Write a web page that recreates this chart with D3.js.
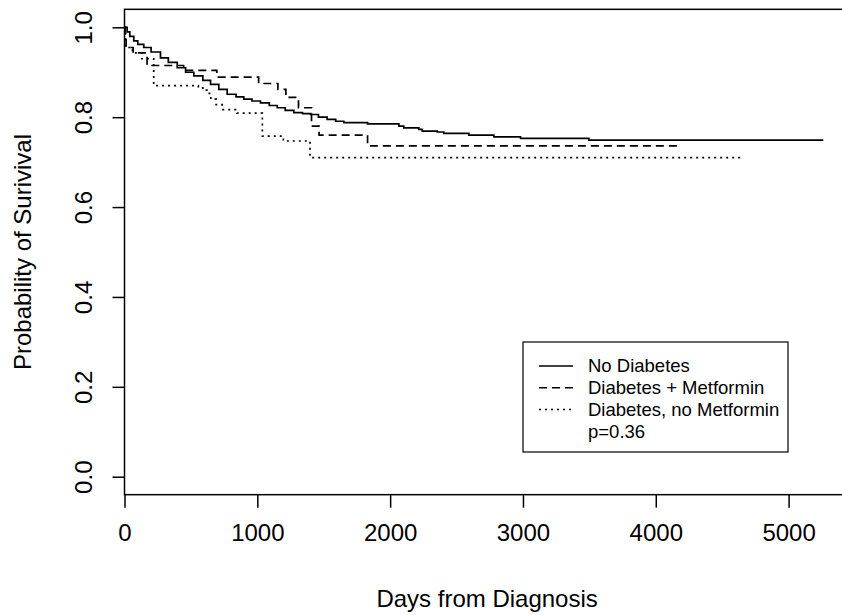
<!DOCTYPE html>
<html>
<head>
<meta charset="utf-8">
<script src="https://cdn.jsdelivr.net/npm/d3@7"></script>
<style>
	body { margin: 0; background: #fff; }
	text { font-family: "Liberation Sans", Arial, sans-serif; fill: #000; }
</style>
</head>
<body>
<svg id="chart" width="842" height="615"></svg>
<script>
const WIDTH = 842,
	  HEIGHT = 615;

// kaplan-meier curves (days, survival)
const noDiabDays = [0, 20, 40, 70, 100, 145, 200, 271, 330, 397, 460, 522, 590, 648, 710, 773, 840, 898, 960, 1024,
	1090, 1150, 1210, 1275, 1340, 1401, 1460, 1526, 1590, 1651, 1830, 2066, 2103, 2216, 2242, 2355, 2404, 2593,
	2781, 2982, 3496, 5261];
const noDiabSurv = [1.0, 0.99, 0.98, 0.97, 0.962, 0.955, 0.945, 0.932, 0.922, 0.910, 0.900, 0.892, 0.882, 0.873,
	0.862, 0.851, 0.845, 0.840, 0.836, 0.832, 0.826, 0.821, 0.815, 0.810, 0.808, 0.806, 0.800, 0.795, 0.791, 0.788,
	0.785, 0.780, 0.776, 0.773, 0.769, 0.767, 0.764, 0.760, 0.756, 0.753, 0.749, 0.749];

const metDays = [0, 5, 12, 65, 170, 445, 695, 1010, 1155, 1215, 1310, 1408, 1465, 1830, 4165];
const metSurv = [1.0, 0.976, 0.955, 0.943, 0.915, 0.904, 0.889, 0.875, 0.862, 0.844, 0.821, 0.780, 0.760, 0.736, 0.736];

const noMetDays = [0, 8, 60, 130, 220, 556, 590, 620, 650, 690, 735, 845, 1038, 1196, 1397, 4640];
const noMetSurv = [1.0, 0.955, 0.943, 0.930, 0.870, 0.865, 0.860, 0.853, 0.840, 0.828, 0.817, 0.809, 0.758, 0.747,
	0.710, 0.710];

const xTicks = [0, 1000, 2000, 3000, 4000, 5000],
	  yTicks = [0, 0.2, 0.4, 0.6, 0.8, 1.0];

const legendLabels = ["No Diabetes", "Diabetes + Metformin", "Diabetes, no Metformin"],
	  pText = "p=0.36";

let svg = d3.select("#chart");

let x = d3.scaleLinear().domain([0, 5000]).range([124.5, 788.6]),
	y = d3.scaleLinear().domain([0, 1]).range([476.7, 27.3]);

// plot frame (right edge falls off the picture)
let frameLeft = x(0),
	frameRight = x(5460),
	frameTop = y(1.04),
	frameBottom = y(-0.04);

svg.append("rect")
	.attr("x", frameLeft)
	.attr("y", frameTop)
	.attr("width", frameRight - frameLeft)
	.attr("height", frameBottom - frameTop)
	.attr("fill", "none")
	.attr("stroke", "#000")
	.attr("stroke-width", 1.5);

// x axis
let xAxis = svg.append("g")
	.attr("transform", "translate(0," + frameBottom + ")")
	.call(d3.axisBottom(x).tickValues(xTicks).tickSize(13).tickPadding(16).tickFormat(d3.format("d")));
xAxis.select(".domain").remove();
xAxis.selectAll("line").attr("stroke", "#000").attr("stroke-width", 1.5);
xAxis.selectAll("text").style("font-size", "24px");

// y axis, labels turned like R does
let yAxis = svg.append("g")
	.attr("transform", "translate(" + frameLeft + ",0)")
	.call(d3.axisLeft(y).tickValues(yTicks).tickSize(12).tickFormat(d3.format(".1f")));
yAxis.select(".domain").remove();
yAxis.selectAll("line").attr("stroke", "#000").attr("stroke-width", 1.5);
yAxis.selectAll("text")
	.attr("x", null)
	.attr("text-anchor", "middle")
	.attr("transform", "translate(-41,0) rotate(-90)")
	.attr("dy", "0.35em")
	.style("font-size", "24px");

// axis titles
svg.append("text")
	.attr("x", (frameLeft + frameRight) / 2)
	.attr("y", 599)
	.attr("dy", "0.35em")
	.attr("text-anchor", "middle")
	.style("font-size", "24px")
	.text("Days from Diagnosis");

svg.append("text")
	.attr("transform", "translate(23," + ((frameTop + frameBottom) / 2) + ") rotate(-90)")
	.attr("dy", "0.35em")
	.attr("text-anchor", "middle")
	.style("font-size", "24px")
	.text("Probability of Surivival");

// curves
let curves = [
	{days: noDiabDays, surv: noDiabSurv, dash: null},
	{days: metDays, surv: metSurv, dash: "8,5"},
	{days: noMetDays, surv: noMetSurv, dash: "2,4"}
];

let line = d3.line()
	.x(d => x(d[0]))
	.y(d => y(d[1]))
	.curve(d3.curveStepAfter);

curves.forEach(c => {
	svg.append("path")
		.datum(d3.zip(c.days, c.surv))
		.attr("d", line)
		.attr("fill", "none")
		.attr("stroke", "#000")
		.attr("stroke-width", 1.7)
		.attr("stroke-dasharray", c.dash);
});

// legend
let legend = svg.append("g");

legend.append("rect")
	.attr("x", 523)
	.attr("y", 342)
	.attr("width", 265)
	.attr("height", 110)
	.attr("fill", "#fff")
	.attr("stroke", "#000")
	.attr("stroke-width", 1.2);

let rowY = d3.scaleLinear().domain([0, 1]).range([366, 387.7]);

legendLabels.forEach((label, i) => {
	legend.append("line")
		.attr("x1", 539)
		.attr("x2", 573)
		.attr("y1", rowY(i))
		.attr("y2", rowY(i))
		.attr("stroke", "#000")
		.attr("stroke-width", 1.5)
		.attr("stroke-dasharray", curves[i].dash);

	legend.append("text")
		.attr("x", 588)
		.attr("y", rowY(i))
		.attr("dy", "0.35em")
		.style("font-size", "18.5px")
		.text(label);
});

legend.append("text")
	.attr("x", 588)
	.attr("y", rowY(3))
	.attr("dy", "0.35em")
	.style("font-size", "18.5px")
	.text(pText);
</script>
</body>
</html>
